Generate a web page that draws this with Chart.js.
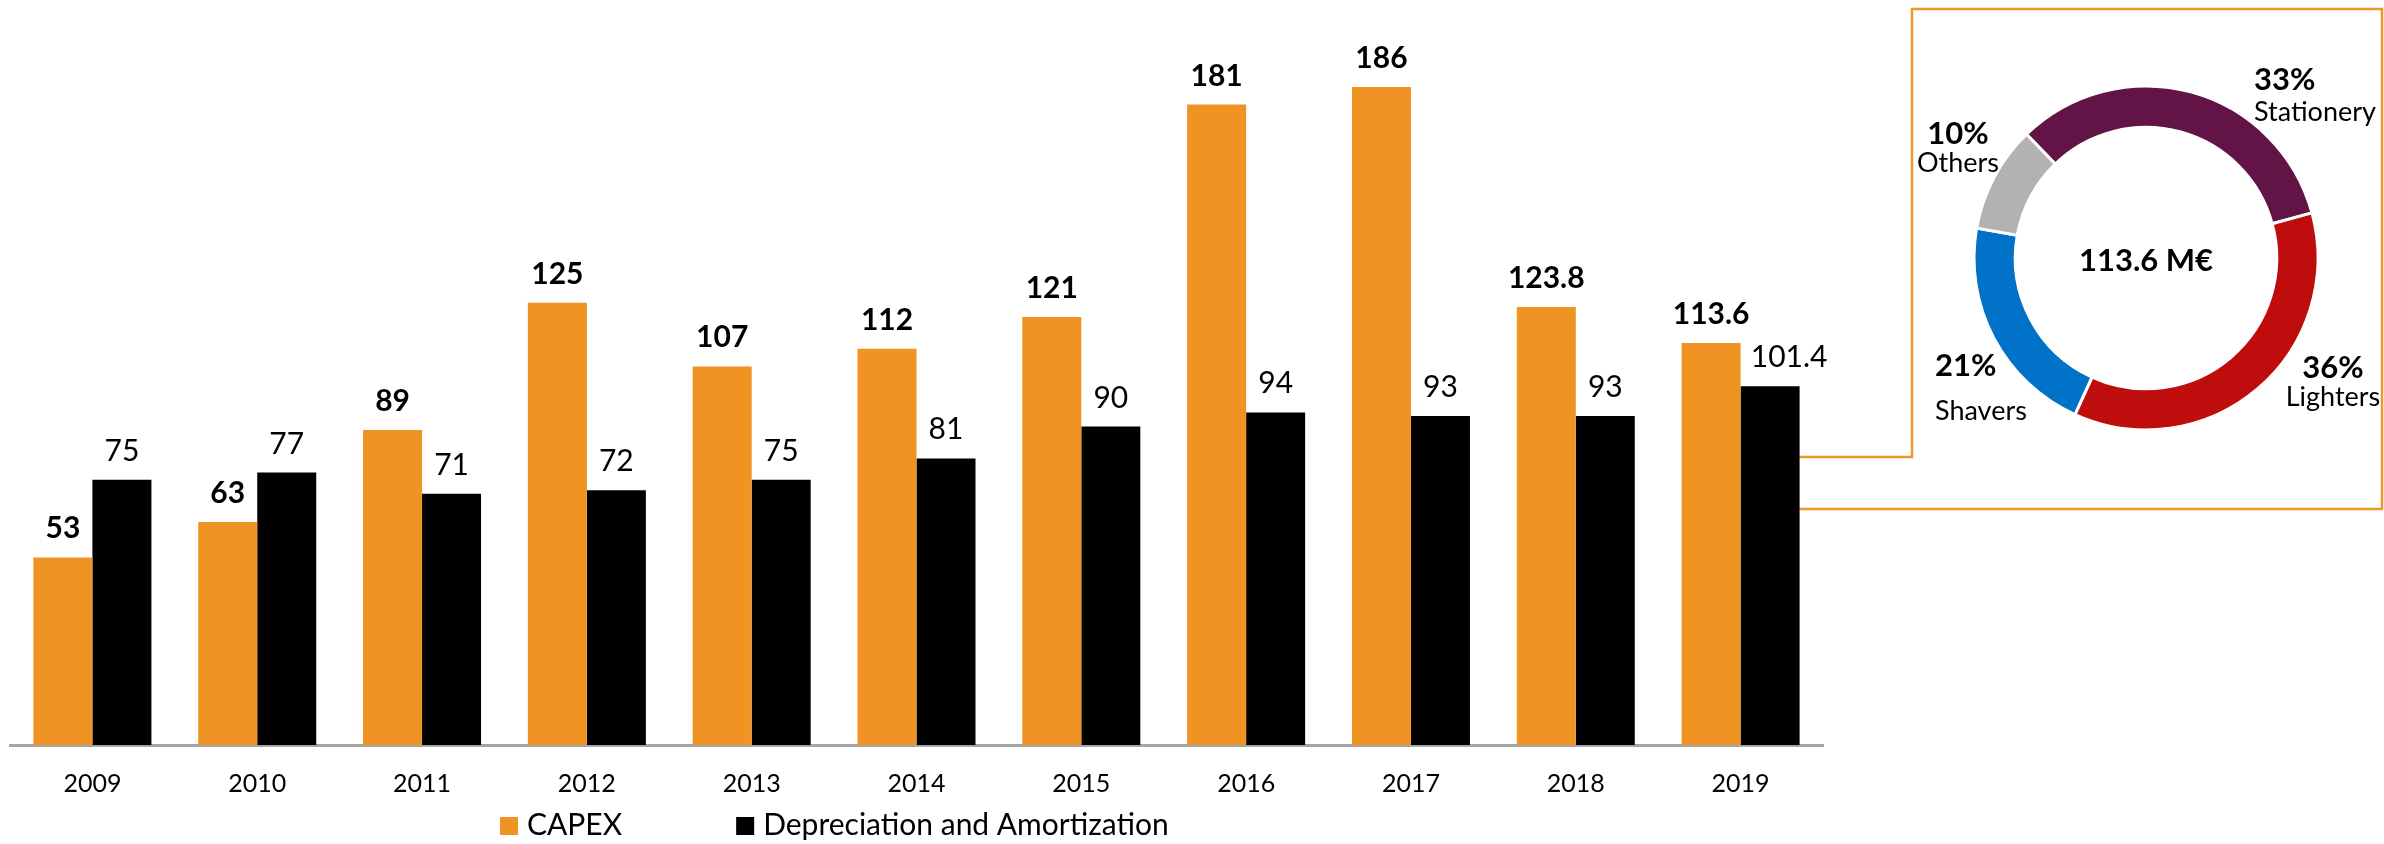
<!DOCTYPE html>
<html>
<head>
<meta charset="utf-8">
<title>CAPEX vs Depreciation and Amortization</title>
<script src="https://cdn.jsdelivr.net/npm/chart.js@4.4.0/dist/chart.umd.min.js"></script>
<style>
html,body{margin:0;padding:0;background:#fff;}
#wrap{position:relative;width:2384px;height:844px;overflow:hidden;}
#barBox{position:absolute;left:0;top:0;width:2384px;height:844px;}
#pieBox{position:absolute;left:1912px;top:9px;width:472px;height:500px;}
</style>
</head>
<body>
<div id="wrap">
	<div id="barBox"><canvas id="barCanvas"></canvas></div>
	<div id="pieBox"><canvas id="pieCanvas"></canvas></div>
</div>
<script>
// yearly figures, M€
var years = ['2009','2010','2011','2012','2013','2014','2015','2016','2017','2018','2019'];
var capex = [53, 63, 89, 125, 107, 112, 121, 181, 186, 123.8, 113.6];
var depAmort = [75, 77, 71, 72, 75, 81, 90, 94, 93, 93, 101.4];

// 2019 capex split by business
var segNames = ['Stationery', 'Lighters', 'Shavers', 'Others'];
var segShares = [33, 36, 21, 10];

var ORANGE = '#EF9323';
var LINE_ORANGE = '#F0962A';
var segColors = ['#611445', '#BF0D0D', '#0073C8', '#B2B2B2'];
var FONT = 'Lato, "Open Sans", sans-serif';

Chart.defaults.font.family = FONT;
Chart.defaults.color = '#000';

function fmtVal(v){
	return String(v);
}

//값 라벨 (막대 위)
var barLabels = {
	id:'barLabels',
	afterDatasetsDraw:function(chart){
		var ctx = chart.ctx;
		ctx.save();
		ctx.textAlign = 'center';
		ctx.textBaseline = 'alphabetic';
		ctx.fillStyle = '#000';
		chart.data.datasets.forEach(function(ds, i){
			var meta = chart.getDatasetMeta(i);
			ctx.font = (i == 0 ? 'bold ' : '') + '30px ' + FONT;
			for(var j=0;j<meta.data.length;j++){
				var bar = meta.data[j];
				var dx = 0;
				// last depreciation label sits a bit to the right of its bar
				if(i == 1 && j == meta.data.length-1) dx = 19;
				ctx.fillText(fmtVal(ds.data[j]), bar.x + dx, bar.y - 19);
			}
		});
		ctx.restore();
	}
};

//연결선 + 박스
var zoomFrame = {
	id:'zoomFrame',
	beforeDatasetsDraw:function(chart){
		var meta = chart.getDatasetMeta(1);
		var last = meta.data[meta.data.length-1];
		var x0 = last.x;
		var ctx = chart.ctx;
		ctx.save();
		ctx.strokeStyle = LINE_ORANGE;
		ctx.lineWidth = 2.5;
		ctx.beginPath();
		ctx.moveTo(x0, 457);
		ctx.lineTo(1912, 457);
		ctx.lineTo(1912, 9);
		ctx.lineTo(2382, 9);
		ctx.lineTo(2382, 509);
		ctx.lineTo(x0, 509);
		ctx.stroke();
		ctx.restore();
	}
};

//범례
var bottomLegend = {
	id:'bottomLegend',
	afterDraw:function(chart){
		var ctx = chart.ctx;
		var x = 500, y = 835;
		ctx.save();
		ctx.font = '30px ' + FONT;
		ctx.textAlign = 'left';
		ctx.textBaseline = 'alphabetic';
		chart.data.datasets.forEach(function(ds){
			ctx.fillStyle = ds.backgroundColor;
			ctx.fillRect(x, y - 18, 18, 18);
			ctx.fillStyle = '#000';
			ctx.fillText(ds.label, x + 27, y);
			x += 27 + ctx.measureText(ds.label).width + 114;
		});
		ctx.restore();
	}
};

var barChart = new Chart(document.getElementById('barCanvas'), {
	type:'bar',
	data:{
		labels:years,
		datasets:[
			{label:'CAPEX', data:capex, backgroundColor:ORANGE},
			{label:'Depreciation and Amortization', data:depAmort, backgroundColor:'#000'}
		]
	},
	options:{
		responsive:true,
		maintainAspectRatio:false,
		animation:false,
		layout:{padding:{left:10, right:561, top:2, bottom:0}},
		categoryPercentage:0.716,
		barPercentage:1.0,
		plugins:{legend:{display:false}, tooltip:{enabled:false}},
		scales:{
			x:{
				grid:{display:false, drawTicks:false},
				border:{display:true, color:'#A6A6A6', width:3},
				ticks:{font:{size:25}, color:'#000', padding:24, maxRotation:0},
				afterFit:function(scale){ scale.height = 99; }
			},
			y:{
				display:false,
				min:0,
				max:210
			}
		}
	},
	plugins:[zoomFrame, barLabels, bottomLegend]
});

// 도넛 라벨 위치 (중심 기준)
var segLabelPos = [
	{x:108, pctY:-168, nameY:-137, align:'left'},
	{x:187, pctY:120, nameY:148, align:'center'},
	{x:-211, pctY:118, nameY:162, align:'left'},
	{x:-188, pctY:-114, nameY:-86, align:'center'}
];

var donutText = {
	id:'donutText',
	afterDraw:function(chart){
		var ctx = chart.ctx;
		var area = chart.chartArea;
		var cx = (area.left + area.right)/2, cy = (area.top + area.bottom)/2;
		ctx.save();
		ctx.fillStyle = '#000';
		ctx.textBaseline = 'alphabetic';
		ctx.textAlign = 'center';
		ctx.font = 'bold 31px ' + FONT;
		ctx.fillText(fmtVal(capex[capex.length-1]) + ' M€', cx, cy + 13);
		for(var i=0;i<segNames.length;i++){
			var p = segLabelPos[i];
			ctx.textAlign = p.align;
			ctx.font = 'bold 31px ' + FONT;
			ctx.fillText(segShares[i] + '%', cx + p.x, cy + p.pctY);
			ctx.font = '27px ' + FONT;
			ctx.fillText(segNames[i], cx + p.x, cy + p.nameY);
		}
		ctx.restore();
	}
};

var pieChart = new Chart(document.getElementById('pieCanvas'), {
	type:'doughnut',
	data:{
		labels:segNames,
		datasets:[{data:segShares, backgroundColor:segColors, borderColor:'#fff', borderWidth:3}]
	},
	options:{
		responsive:true,
		maintainAspectRatio:false,
		animation:false,
		rotation:-44,
		radius:172,
		cutout:'76%',
		layout:{padding:{right:4, bottom:2}},
		plugins:{legend:{display:false}, tooltip:{enabled:false}}
	},
	plugins:[donutText]
});
</script>
</body>
</html>
